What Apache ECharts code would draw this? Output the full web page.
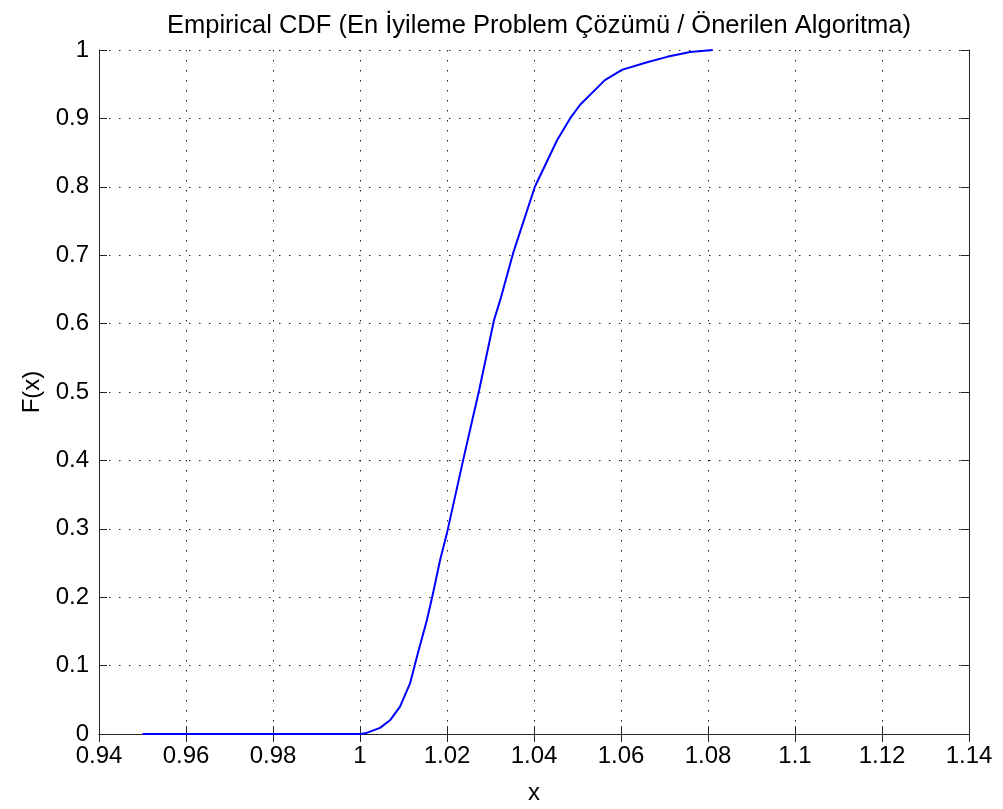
<!DOCTYPE html>
<html>
<head>
<meta charset="utf-8">
<script src="https://cdn.jsdelivr.net/npm/echarts@6/dist/echarts.min.js"></script>
<style>
html,body{margin:0;padding:0;background:#fff;}
#c{width:1003px;height:809px;}
</style>
</head>
<body>
<div id="c"></div>
<script>
var titleText = 'Empirical CDF (En İyileme Problem Çözümü / Önerilen Algoritma)';
var xName = 'x';
var yName = 'F(x)';
var xTicks = [0.94, 0.96, 0.98, 1, 1.02, 1.04, 1.06, 1.08, 1.1, 1.12, 1.14];
var yTicks = [0, 0.1, 0.2, 0.3, 0.4, 0.5, 0.6, 0.7, 0.8, 0.9, 1];
var xs = [0.95, 1.0, 1.0012, 1.0046, 1.0069, 1.0092, 1.0115, 1.0133, 1.0154, 1.0168, 1.0184, 1.02, 1.0237, 1.0274, 1.0308, 1.0324, 1.0352, 1.0402, 1.0453, 1.0483, 1.0506, 1.0563, 1.0602, 1.066, 1.0706, 1.0759, 1.0811];
var ys = [0, 0, 0.001, 0.009, 0.02, 0.04, 0.074, 0.118, 0.167, 0.206, 0.254, 0.294, 0.40, 0.503, 0.605, 0.638, 0.703, 0.80, 0.868, 0.90, 0.92, 0.956, 0.971, 0.982, 0.990, 0.997, 1.0];

var data = xs.map(function (x, i) { return [x, ys[i]]; });
var FONT = '"Liberation Sans", Arial, sans-serif';
var fs = 24;
var axisCol = '#262626';

function xAx(pos, show) {
  return {
    type: 'value', position: pos,
    min: xTicks[0], max: xTicks[xTicks.length - 1], interval: 0.02,
    name: show ? xName : '', nameLocation: 'middle', nameGap: 47,
    nameTextStyle: { fontFamily: FONT, fontSize: fs, color: '#000' },
    axisLine: { show: true, lineStyle: { color: axisCol, width: 1 } },
    axisTick: { show: true, inside: true, length: 8, lineStyle: { color: axisCol } },
    axisLabel: { show: show, fontFamily: FONT, fontSize: fs, color: '#000', margin: 10,
      formatter: function (v) { return String(Math.round(v * 100) / 100); } },
    splitLine: { show: show, lineStyle: { color: '#222', width: 1, type: [1.5, 8.5] } }
  };
}
function yAx(pos, show) {
  return {
    type: 'value', position: pos,
    min: yTicks[0], max: yTicks[yTicks.length - 1], interval: 0.1,
    name: show ? yName : '', nameLocation: 'middle', nameGap: 55, nameRotate: 90,
    nameTextStyle: { fontFamily: FONT, fontSize: fs, color: '#000' },
    axisLine: { show: true, lineStyle: { color: axisCol, width: 1 } },
    axisTick: { show: true, inside: true, length: 8, lineStyle: { color: axisCol } },
    axisLabel: { show: show, fontFamily: FONT, fontSize: fs, color: '#000', margin: 10,
      formatter: function (v) { return String(Math.round(v * 10) / 10); } },
    splitLine: { show: show, lineStyle: { color: '#222', width: 1, type: [1.5, 8.5] } }
  };
}

var chart = echarts.init(document.getElementById('c'), null, { renderer: 'canvas' });
chart.setOption({
  backgroundColor: '#fff',
  animation: false,
  title: {
    text: titleText, left: 534, top: 8, textAlign: 'center',
    textStyle: { fontFamily: FONT, fontSize: 25.5, fontWeight: 'normal', color: '#000' }
  },
  grid: { left: 99, right: 34, top: 50, bottom: 75, containLabel: false, outerBoundsMode: 'none' },
  xAxis: [xAx('bottom', true), xAx('top', false)],
  yAxis: [yAx('left', true), yAx('right', false)],
  series: [{
    type: 'line', data: data, showSymbol: false, smooth: false,
    lineStyle: { color: '#0000ff', width: 2 },
    xAxisIndex: 0, yAxisIndex: 0
  }]
});
</script>
</body>
</html>
